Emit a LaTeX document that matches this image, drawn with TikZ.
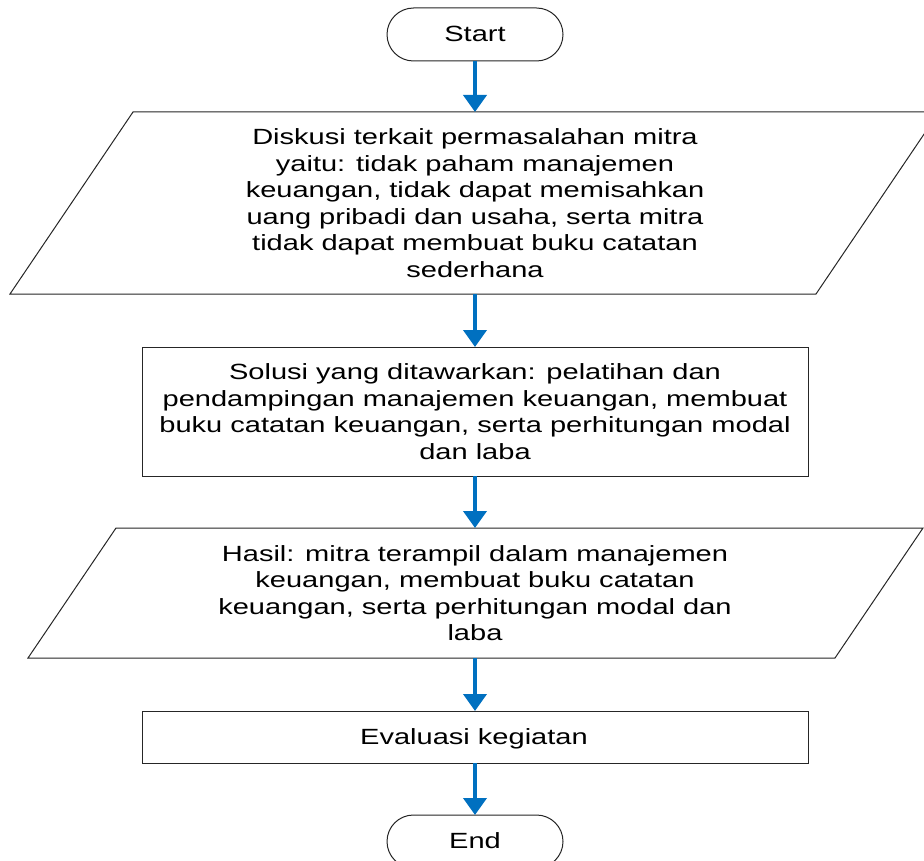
\documentclass[tikz,border=0pt]{standalone}
\usepackage{fontspec}
\setmainfont{Liberation Sans}[FakeStretch=1.32]
\usetikzlibrary{arrows.meta}
\definecolor{flowblue}{RGB}{0,112,192}
\begin{document}
\begin{tikzpicture}[x=1pt,y=-1pt,
  box/.style={draw=black!85,line width=1pt,fill=white},
  txt/.style={align=center,font=\fontsize{22}{26.5}\selectfont,inner sep=0pt},
  flow/.style={draw=flowblue,line width=4pt,-{Triangle[length=17pt,width=23pt,fill=flowblue]}}]
\useasboundingbox (0,0) rectangle (924,861);
% shapes
\draw[box,rounded corners=26.5pt] (387,8) rectangle (563,61);
\draw[box] (133,112) -- (939,112) -- (816,294) -- (10,294) -- cycle;
\draw[box] (142,347) rectangle (808,476);
\draw[box] (116,528) -- (923,528) -- (835,658) -- (28,658) -- cycle;
\draw[box] (142,711) rectangle (808,763);
\draw[box,rounded corners=26.5pt] (387,815) rectangle (563,868);
% anchors
\coordinate (startB) at (475,61);
\coordinate (d1T) at (475,112);
\coordinate (d1B) at (475,294);
\coordinate (s2T) at (475,347);
\coordinate (s2B) at (475,476);
\coordinate (h3T) at (475,528);
\coordinate (h3B) at (475,658);
\coordinate (e4T) at (475,711);
\coordinate (e4B) at (475,763);
\coordinate (endT) at (475,815);
% texts
\node[txt] (start) at (475,34) {Start};
\node[txt] (diskusi) at (475,203) {Diskusi terkait permasalahan mitra\\yaitu: tidak paham manajemen\\keuangan, tidak dapat memisahkan\\uang pribadi dan usaha, serta mitra\\tidak dapat membuat buku catatan\\sederhana};
\node[txt] (solusi) at (475,411.5) {Solusi yang ditawarkan: pelatihan dan\\pendampingan manajemen keuangan, membuat\\buku catatan keuangan, serta perhitungan modal\\dan laba};
\node[txt] (hasil) at (475,593) {Hasil: mitra terampil dalam manajemen\\keuangan, membuat buku catatan\\keuangan, serta perhitungan modal dan\\laba};
\node[txt] (eval) at (474,739) {Evaluasi kegiatan};
\node[txt] (end) at (475,841) {End};
% connectors
\draw[flow] (startB) -- (d1T);
\draw[flow] (d1B) -- (s2T);
\draw[flow] (s2B) -- (h3T);
\draw[flow] (h3B) -- (e4T);
\draw[flow] (e4B) -- (endT);
\end{tikzpicture}
\end{document}
